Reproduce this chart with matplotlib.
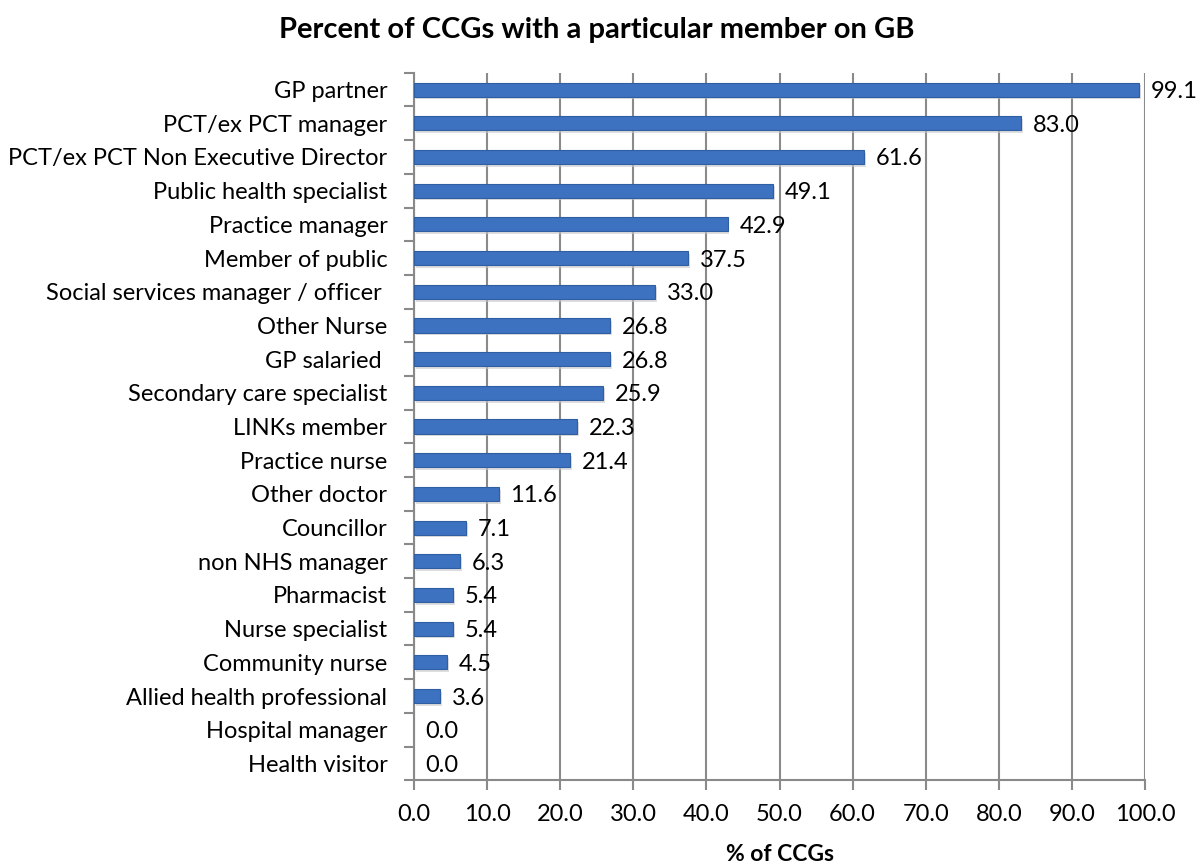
import numpy as np
import matplotlib.pyplot as plt

categories = ["GP partner", "PCT/ex PCT manager", "PCT/ex PCT Non Executive Director",
              "Public health specialist", "Practice manager", "Member of public",
              "Social services manager / officer ", "Other Nurse", "GP salaried ",
              "Secondary care specialist", "LINKs member", "Practice nurse",
              "Other doctor", "Councillor", "non NHS manager", "Pharmacist",
              "Nurse specialist", "Community nurse", "Allied health professional",
              "Hospital manager", "Health visitor"]
values = [99.1, 83.0, 61.6, 49.1, 42.9, 37.5, 33.0, 26.8, 26.8, 25.9, 22.3, 21.4,
          11.6, 7.1, 6.3, 5.4, 5.4, 4.5, 3.6, 0.0, 0.0]

plt.rcParams['font.family'] = ['Lato', 'DejaVu Sans']

fig = plt.figure(figsize=(12.03, 8.66), dpi=100)
ax = fig.add_axes([0.344, 0.099, 0.608, 0.817])

n = len(categories)
y = np.arange(n)[::-1]

# shadow then bar (no outline on empty bars)
ax.barh(y - 0.08, values, height=0.42, left=0.25, color='#c8c8c8', alpha=0.6, zorder=2)
lw = [0.8 if v > 0 else 0 for v in values]
ax.barh(y, values, height=0.42, color='#3d72c0', edgecolor='#2f5ea3', linewidth=lw, zorder=3)

for yi, v in zip(y, values):
    ax.text(v + 1.6, yi - 0.06, f"{v:.1f}", va='center', ha='left', fontsize=17, zorder=4)

ax.set_xlim(0, 100)
ax.set_ylim(-0.5, n - 0.5)
ax.set_xticks(np.arange(0, 101, 10))
ax.set_xticklabels([f"{t:.1f}" for t in np.arange(0, 101, 10)], fontsize=17)
ax.set_yticks(y)
ax.set_yticklabels(categories, fontsize=17)
ax.set_yticks(np.arange(-0.5, n, 1), minor=True)
ax.tick_params(axis='y', which='major', length=0, pad=19)
ax.tick_params(axis='y', which='minor', length=7, width=1.5, color='#8a8a8a')
ax.tick_params(axis='x', length=7, width=1.5, color='#8a8a8a', pad=10)

ax.grid(axis='x', color='#8a8a8a', linewidth=1.5, zorder=1)
ax.set_axisbelow(True)
for s in ['top', 'right']:
    ax.spines[s].set_visible(False)
for s in ['left', 'bottom']:
    ax.spines[s].set_color('#8a8a8a')
    ax.spines[s].set_linewidth(1.5)

ax.set_xlabel("% of CCGs", fontsize=16.5, fontweight='bold', labelpad=14)
fig.text(0.496, 0.965, "Percent of CCGs with a particular member on GB", ha='center', va='center',
         fontsize=21, fontweight='bold')

fig.savefig("out.png", dpi=100)
